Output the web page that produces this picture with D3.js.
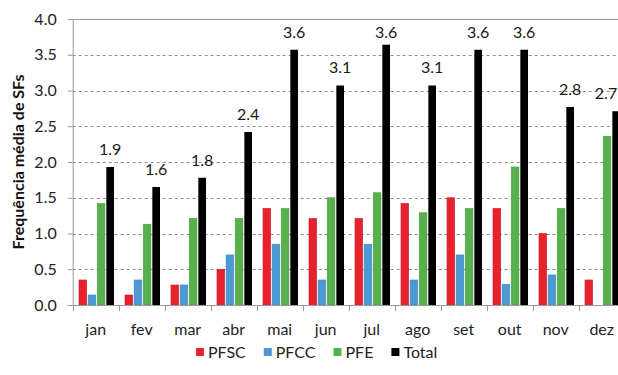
<!DOCTYPE html>
<html lang="pt">
<head>
    <title>Frequência média de SFs</title>
    <style>
        body { margin: 0; background: #fff; }
        svg { display: block; font-family: Lato, "Open Sans", sans-serif; }
        .grid line { stroke: #8c8c8c; stroke-dasharray: 3,3; }
    </style>
    <script src="https://d3js.org/d3.v7.min.js"></script>
</head>
<body>
    <script>
        // data
        const months = ["jan", "fev", "mar", "abr", "mai", "jun", "jul", "ago", "set", "out", "nov", "dez"];
        const series = ["PFSC", "PFCC", "PFE", "Total"];
        const colors = ["#e8222c", "#4b9ad6", "#58b04c", "#000000"];
        const pfsc  = [0.35, 0.14, 0.28, 0.50, 1.35, 1.21, 1.21, 1.42, 1.50, 1.35, 1.00, 0.35];
        const pfcc  = [0.14, 0.35, 0.28, 0.70, 0.85, 0.35, 0.85, 0.35, 0.70, 0.29, 0.42, 0];
        const pfe   = [1.42, 1.13, 1.21, 1.21, 1.35, 1.50, 1.57, 1.29, 1.35, 1.93, 1.35, 2.36];
        const total = [1.93, 1.65, 1.78, 2.42, 3.57, 3.07, 3.64, 3.07, 3.57, 3.57, 2.77, 2.71];
        const totalLabels = ["1.9", "1.6", "1.8", "2.4", "3.6", "3.1", "3.6", "3.1", "3.6", "3.6", "2.8", "2.7"];
        const yTicks = [0, 0.5, 1, 1.5, 2, 2.5, 3, 3.5, 4];

        const values = [pfsc, pfcc, pfe, total];

        const width = 618, height = 375;
        const plotLeft = 72.7, plotBottom = 305, plotTop = 19;
        const bandW = 46;

        const svg = d3.select("body").append("svg")
            .attr("width", width)
            .attr("height", height);

        const x = d3.scaleBand()
            .domain(months)
            .range([plotLeft, plotLeft + bandW * months.length]);

        const xs = d3.scaleBand()
            .domain(series)
            .range([6.3, 41.3])
            .paddingInner(0.16);

        const y = d3.scaleLinear()
            .domain([0, 4])
            .range([plotBottom, plotTop]);

        // dashed gridlines
        svg.append("g")
            .attr("class", "grid")
            .selectAll("line")
            .data(yTicks.filter(d => d > 0 && d < 4))
            .join("line")
            .attr("x1", plotLeft)
            .attr("x2", width)
            .attr("y1", d => Math.round(y(d)) + 0.5)
            .attr("y2", d => Math.round(y(d)) + 0.5);

        // top border
        svg.append("line")
            .attr("x1", plotLeft).attr("x2", width)
            .attr("y1", Math.round(y(4)) + 0.5).attr("y2", Math.round(y(4)) + 0.5)
            .attr("stroke", "#9a9a9a");

        // bars
        series.forEach((s, i) => {
            svg.append("g")
                .selectAll("rect")
                .data(months)
                .join("rect")
                .attr("x", (m) => x(m) + xs(s))
                .attr("width", xs.bandwidth())
                .attr("y", (m, j) => y(values[i][j]))
                .attr("height", (m, j) => plotBottom - y(values[i][j]))
                .attr("fill", colors[i])
                .attr("stroke", i < 3 ? d3.color(colors[i]).darker(0.4) : "none")
                .attr("stroke-width", 0.6);
        });

        // labels over Total (kept inside the picture at the right edge)
        svg.append("g")
            .selectAll("text")
            .data(months)
            .join("text")
            .attr("x", m => Math.min(x(m) + xs("Total") + xs.bandwidth() / 2, width - 12))
            .attr("y", (m, j) => Math.max(y(total[j]) - 12, 38))
            .attr("text-anchor", "middle")
            .attr("font-size", 16)
            .attr("fill", "#1a1a1a")
            .text((m, j) => totalLabels[j]);

        // y axis
        const yAxis = svg.append("g")
            .attr("transform", `translate(${plotLeft},0)`)
            .call(d3.axisLeft(y).tickValues(yTicks).tickFormat(d3.format(".1f")).tickSize(5).tickPadding(11));
        yAxis.select(".domain").attr("stroke", "#9a9a9a");
        yAxis.selectAll(".tick line").attr("stroke", "#9a9a9a");
        yAxis.selectAll("text").attr("font-size", 16).attr("fill", "#222").attr("font-family", "Lato, sans-serif");

        // x axis: ticks sit between the categories
        const xAxis = svg.append("g")
            .attr("transform", `translate(0,${plotBottom})`)
            .call(d3.axisBottom(x).tickSize(0).tickPadding(19));
        xAxis.select(".domain").attr("stroke", "#9a9a9a");
        xAxis.selectAll("text").attr("font-size", 16).attr("fill", "#222").attr("font-family", "Lato, sans-serif");
        xAxis.selectAll(".sep")
            .data(months)
            .join("line")
            .attr("class", "sep")
            .attr("x1", m => Math.round(x(m)) + 0.5)
            .attr("x2", m => Math.round(x(m)) + 0.5)
            .attr("y1", 0).attr("y2", 6)
            .attr("stroke", "#9a9a9a");

        // y title
        svg.append("text")
            .attr("transform", "translate(24,162) rotate(-90)")
            .attr("text-anchor", "middle")
            .attr("font-size", 16)
            .attr("font-weight", "bold")
            .attr("fill", "#111")
            .text("Frequência média de SFs");

        // legend
        const legend = svg.append("g").attr("transform", "translate(196,348)");
        let lx = 0;
        series.forEach((s, i) => {
            const item = legend.append("g").attr("transform", `translate(${lx},0)`);
            item.append("rect")
                .attr("width", 8).attr("height", 8)
                .attr("fill", colors[i]);
            const t = item.append("text")
                .attr("x", 12).attr("y", 9.5)
                .attr("font-size", 16)
                .attr("fill", "#222")
                .text(s);
            lx += 12 + t.node().getComputedTextLength() + 18;
        });
    </script>
</body>
</html>
